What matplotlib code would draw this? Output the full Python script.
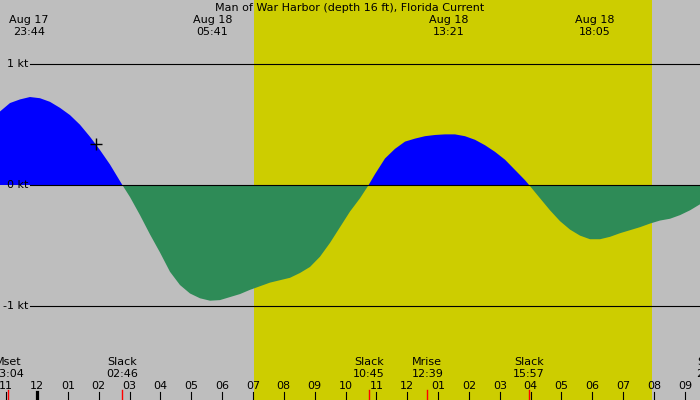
import numpy as np
import matplotlib
matplotlib.use("Agg")
import matplotlib.pyplot as plt
import matplotlib.transforms as mtransforms

matplotlib.rc('font', family='DejaVu Sans', size=8)

# Current speed (kt), hours from Aug 18 00:00
HOURS = [-1.199, -0.875, -0.551, -0.227, 0.097, 0.421, 0.746, 1.070, 1.394, 1.718,
         2.042, 2.366, 2.767, 3.015, 3.339, 3.663, 3.987, 4.311, 4.635, 4.959,
         5.284, 5.608, 5.932, 6.256, 6.580, 6.904, 7.229, 7.553, 7.877, 8.201,
         8.525, 8.849, 9.173, 9.498, 9.822, 10.146, 10.470, 10.750, 10.956, 11.280,
         11.604, 11.929, 12.253, 12.577, 12.901, 13.225, 13.549, 13.873, 14.198, 14.522,
         14.846, 15.170, 15.494, 15.818, 15.950, 16.305, 16.629, 16.953, 17.277, 17.601,
         17.925, 18.250, 18.574, 18.898, 19.222, 19.546, 19.870, 20.194, 20.519, 20.843,
         21.167, 21.491]
SPEED = [0.61, 0.68, 0.71, 0.73, 0.72, 0.69, 0.64, 0.58, 0.50, 0.40,
         0.29, 0.17, 0.0, -0.10, -0.25, -0.41, -0.56, -0.72, -0.83, -0.90,
         -0.94, -0.96, -0.955, -0.93, -0.905, -0.87, -0.84, -0.81, -0.79, -0.77,
         -0.73, -0.68, -0.595, -0.48, -0.35, -0.22, -0.11, 0.0, 0.09, 0.22,
         0.30, 0.36, 0.385, 0.405, 0.415, 0.42, 0.42, 0.405, 0.375, 0.33,
         0.275, 0.21, 0.125, 0.04, 0.0, -0.11, -0.21, -0.30, -0.37, -0.42,
         -0.45, -0.45, -0.43, -0.40, -0.375, -0.35, -0.32, -0.295, -0.28, -0.25,
         -0.21, -0.16]

# max / min current events shown along the top
TOP_DATES = ["Aug 17", "Aug 18", "Aug 18", "Aug 18"]
TOP_TIMES = ["23:44", "05:41", "13:21", "18:05"]
TOP_HOURS = [-0.267, 5.683, 13.35, 18.083]

# slack and moon events shown along the bottom
EVENT_NAMES = ["Mset", "Slack", "Slack", "Mrise", "Slack", "Slack"]
EVENT_TIMES = ["23:04", "02:46", "10:45", "12:39", "15:57", "21:53"]
EVENT_HOURS = [-0.933, 2.767, 10.75, 12.65, 15.95, 21.88]

SUNRISE = 7.02
SUNSET = 19.92
NOW_HOUR = 1.91
NOW_SPEED = 0.34
LEVELS = [1, 0, -1]
TITLE = "Man of War Harbor (depth 16 ft), Florida Current"

NIGHT = '#bebebe'
DAY = '#cdcd00'
FLOOD = '#0000ff'
EBB = '#2e8b57'


fig = plt.figure(figsize=(7, 4), dpi=100)
fig.patch.set_facecolor(NIGHT)
ax = fig.add_axes([0, 0, 1, 1])
ax.set_facecolor(NIGHT)
ax.set_xlim(-1.199, 21.49)
ax.set_ylim(-1.784, 1.535)
ax.axis('off')

ax.axvspan(SUNRISE, SUNSET, color=DAY, lw=0, zorder=0)

h = np.array(HOURS)
v = np.array(SPEED)
ax.fill_between(h, 0, v, where=v >= 0, interpolate=True, color=FLOOD, lw=0, zorder=1)
ax.fill_between(h, 0, v, where=v <= 0, interpolate=True, color=EBB, lw=0, zorder=1)

# speed level lines and labels
for lev in LEVELS:
    ax.axhline(lev, xmin=30 / 700, xmax=1, color='black', lw=0.8, zorder=2)
    ax.annotate("%d kt" % lev, xy=(0, lev), xycoords=('axes fraction', 'data'),
                xytext=(28, 0), textcoords='offset pixels',
                ha='right', va='center', fontsize=8, zorder=3)

ax.plot([NOW_HOUR], [NOW_SPEED], marker='+', ms=8, mew=1, color='black', zorder=3)

trans = mtransforms.blended_transform_factory(ax.transData, ax.transAxes)

ax.text(0.5, 1 - 8 / 400, TITLE, transform=ax.transAxes, ha='center', va='center', fontsize=8)
for d, t, x in zip(TOP_DATES, TOP_TIMES, TOP_HOURS):
    ax.text(x, 1 - 20 / 400, d, transform=trans, ha='center', va='center', fontsize=8)
    ax.text(x, 1 - 32 / 400, t, transform=trans, ha='center', va='center', fontsize=8)

for n, t, x in zip(EVENT_NAMES, EVENT_TIMES, EVENT_HOURS):
    ax.text(x, 1 - 362 / 400, n, transform=trans, ha='center', va='center', fontsize=8)
    ax.text(x, 1 - 374 / 400, t, transform=trans, ha='center', va='center', fontsize=8)
    ax.plot([x, x], [0, 10 / 400], transform=trans, color='red', lw=1, zorder=4)

# hour ticks along the bottom
for hr in range(-1, 22):
    lab = "%02d" % ((hr % 12) or 12)
    ax.text(hr, 1 - 386 / 400, lab, transform=trans, ha='center', va='center', fontsize=8)
    ax.plot([hr, hr], [0, 8 / 400], transform=trans, color='black',
            lw=2.3 if hr == 0 else 0.8, zorder=5)

fig.savefig("out.png", dpi=100, facecolor=NIGHT)
